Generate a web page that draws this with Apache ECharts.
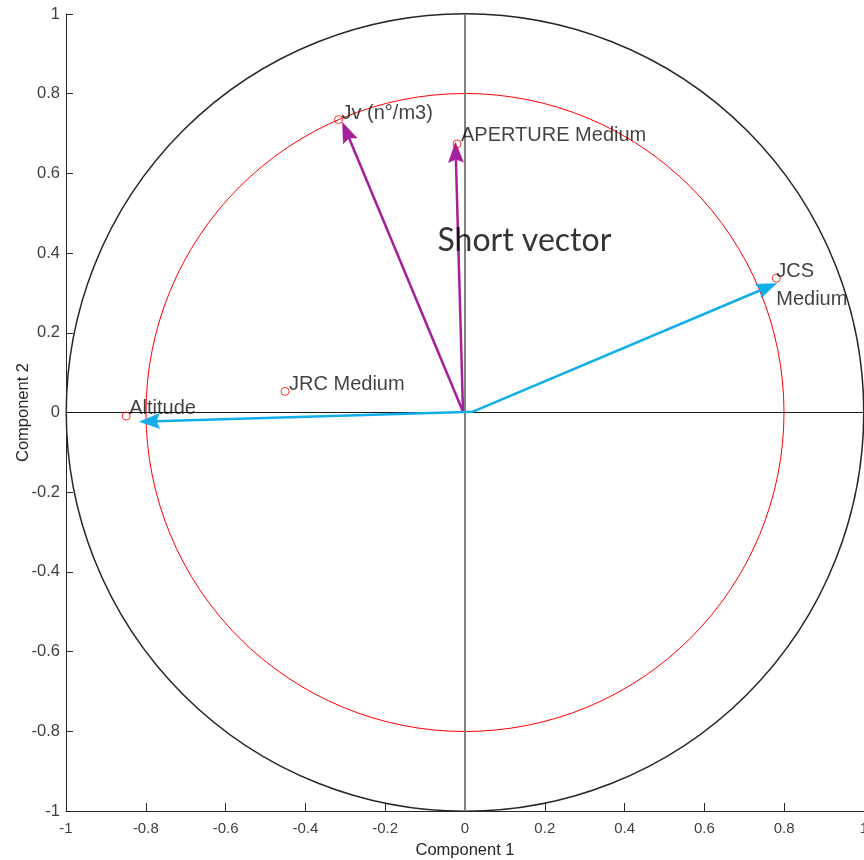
<!DOCTYPE html>
<html><head><meta charset="utf-8">
<script src="https://cdn.jsdelivr.net/npm/echarts@6/dist/echarts.min.js"></script>
<style>html,body{margin:0;padding:0;background:#fff}#c{width:864px;height:860px}</style>
</head><body><div id="c"></div>
<script>
// ---- data ----
const varNames = ['Jv (n°/m3)', 'APERTURE Medium', 'JCS\nMedium', 'JRC Medium', 'Altitude'];
const pointX = [-0.317, -0.020, 0.780, -0.451, -0.849];
const pointY = [0.735, 0.674, 0.337, 0.053, -0.009];

const vecStartX = [-0.005, -0.005, 0.020, 0.020];
const vecStartY = [0.002, 0.002, 0.002, 0.002];
const vecEndX = [-0.307, -0.024, 0.781, -0.816];
const vecEndY = [0.728, 0.678, 0.324, -0.023];
const vecGroup = ['purple', 'purple', 'cyan', 'cyan'];

const circleRadii = [1, 0.8];

const annotationText = ['Short vector'];
const annotationX = [-0.069];
const annotationY = [0.431];

const axisMin = -1, axisMax = 1, axisStep = 0.2;

// ---- styles ----
const labelOffsets = [[3, -6], [4, -8], [0, 7], [4, -7], [3, -8]];
const groupColors = { purple: '#A51E9B', cyan: '#12AEEA' };
const circleStyles = [{ color: '#262626', width: 1.5 }, { color: '#FF0000', width: 1 }];
const textColor = '#262626';

const chart = echarts.init(document.getElementById('c'), null, { renderer: 'canvas' });

const axisCommon = {
  type: 'value', min: axisMin, max: axisMax, interval: axisStep,
  splitLine: { show: false },
  axisLine: { show: true, onZero: false, lineStyle: { color: '#262626', width: 1 } },
  nameLocation: 'middle',
  nameMoveOverlap: false,
  nameTextStyle: { fontFamily: 'Liberation Sans', fontSize: 16.5, color: textColor }
};

const option = {
  animation: false,
  backgroundColor: '#fff',
  grid: { left: 66, right: 0, top: 14, bottom: 49, containLabel: false, outerBoundsMode: 'none' },
  xAxis: Object.assign({}, axisCommon, {
    name: 'Component 1', nameGap: 31,
    axisTick: { show: true, inside: true, length: 8, lineStyle: { color: '#262626' } },
    axisLabel: { margin: 10, fontFamily: 'Liberation Sans', fontSize: 15, color: '#404040' }
  }),
  yAxis: Object.assign({}, axisCommon, {
    name: 'Component 2', nameGap: 34,
    axisTick: { show: true, inside: true, length: 7, lineStyle: { color: '#262626' } },
    axisLabel: { margin: 6, fontFamily: 'Liberation Sans', fontSize: 16.5, color: '#404040' }
  }),
  series: [
    {
      type: 'custom', silent: true, z: 1,
      data: circleRadii.map((r, i) => ({ value: [0, 0, r] })),
      encode: { x: 0, y: 1 },
      renderItem: function (params, api) {
        const c = api.coord([api.value(0), api.value(1)]);
        const s = api.size([api.value(2), api.value(2)]);
        const st = circleStyles[params.dataIndex];
        return {
          type: 'circle',
          shape: { cx: c[0], cy: c[1], r: (s[0] + s[1]) / 2 },
          style: { fill: null, stroke: st.color, lineWidth: st.width }
        };
      }
    },
    {
      type: 'line', silent: true, symbol: 'none', z: 2,
      data: [[axisMin, 0], [axisMax, 0]],
      lineStyle: { color: '#1a1a1a', width: 1 }
    },
    {
      type: 'line', silent: true, symbol: 'none', z: 2,
      data: [[0, axisMin], [0, axisMax]],
      lineStyle: { color: '#808080', width: 2 }
    },
    {
      type: 'custom', silent: true, z: 3,
      data: vecStartX.map((x, i) => ({
        value: [x, vecStartY[i], vecEndX[i], vecEndY[i]],
        itemStyle: { color: groupColors[vecGroup[i]] }
      })),
      encode: { x: [0, 2], y: [1, 3] },
      renderItem: function (params, api) {
        const p0 = api.coord([api.value(0), api.value(1)]);
        const p1 = api.coord([api.value(2), api.value(3)]);
        const dx = p1[0] - p0[0], dy = p1[1] - p0[1];
        const len = Math.hypot(dx, dy);
        const ux = dx / len, uy = dy / len;
        const nx = -uy, ny = ux;
        const hl = 20, hw = 7.5, notch = 3;
        const bx = p1[0] - ux * hl, by = p1[1] - uy * hl;
        const color = api.visual('color');
        return {
          type: 'group',
          children: [
            {
              type: 'line',
              shape: { x1: p0[0], y1: p0[1], x2: bx + ux * notch, y2: by + uy * notch },
              style: { stroke: color, lineWidth: 2.5 }
            },
            {
              type: 'polygon',
              shape: {
                points: [
                  [p1[0], p1[1]],
                  [bx + nx * hw, by + ny * hw],
                  [bx + ux * notch, by + uy * notch],
                  [bx - nx * hw, by - ny * hw]
                ]
              },
              style: { fill: color, stroke: color, lineWidth: 0.5 }
            }
          ]
        };
      }
    },
    {
      type: 'scatter', silent: true, z: 4,
      symbol: 'circle', symbolSize: 8,
      itemStyle: { color: 'rgba(0,0,0,0)', borderColor: '#FF0000', borderWidth: 1 },
      data: pointX.map((x, i) => ({
        value: [x, pointY[i]],
        name: varNames[i],
        label: { offset: labelOffsets[i] }
      })),
      label: {
        show: true, position: 'inside', align: 'left', verticalAlign: 'middle',
        formatter: p => p.name,
        fontFamily: 'Liberation Sans', fontSize: 20, lineHeight: 28, color: '#111',
        textBorderWidth: 0
      }
    },
    {
      type: 'scatter', silent: true, z: 5,
      symbolSize: 0,
      data: annotationX.map((x, i) => ({ value: [x, annotationY[i]], name: annotationText[i] })),
      label: {
        show: true, position: 'inside', align: 'left', verticalAlign: 'middle',
        formatter: p => p.name,
        fontFamily: 'Lato', fontSize: 32, color: '#000', textBorderWidth: 0
      }
    }
  ]
};
chart.setOption(option);
</script>
</body></html>
